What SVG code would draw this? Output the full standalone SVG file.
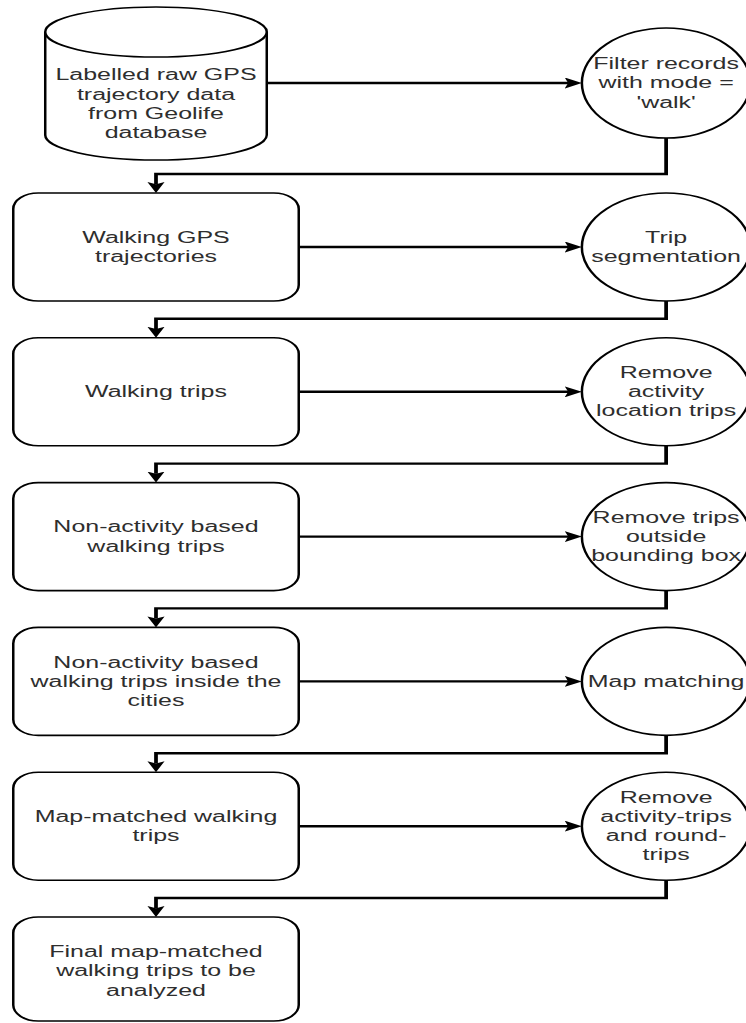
<svg xmlns="http://www.w3.org/2000/svg" width="746" height="1023" viewBox="0 0 746 1023">
  <defs>
    <style>
      .shape { fill: #ffffff; stroke: #000000; stroke-width: 1.6; }
      .edge { fill: none; stroke: #000000; stroke-width: 2.4; }
      .lbl { font-family: "Liberation Sans", Arial, Helvetica, sans-serif; font-size: 16px; fill: #2e2e2e; text-anchor: middle; }
    </style>
    <marker id="arr" markerUnits="userSpaceOnUse" markerWidth="11" markerHeight="11" refX="2" refY="5" orient="auto" viewBox="0 0 10 10">
      <path d="M0,0 L10,5 L0,10 L2,5 Z" fill="#000000"/>
    </marker>
  </defs>
  <rect width="746" height="1023" fill="#ffffff"/>
  <g transform="scale(1.56,1)">
    <g id="connectors">
      <path class="edge" d="M171,83 L364.2,83" marker-end="url(#arr)"/>
      <path class="edge" d="M427,138 L427,174 L100,174 L100,184.2" marker-end="url(#arr)"/>
      <path class="edge" d="M191.5,247 L364.2,247" marker-end="url(#arr)"/>
      <path class="edge" d="M427,301 L427,318.8 L100,318.8 L100,329" marker-end="url(#arr)"/>
      <path class="edge" d="M191.5,391.8 L364.2,391.8" marker-end="url(#arr)"/>
      <path class="edge" d="M427,445.8 L427,463.6 L100,463.6 L100,473.8" marker-end="url(#arr)"/>
      <path class="edge" d="M191.5,536.6 L364.2,536.6" marker-end="url(#arr)"/>
      <path class="edge" d="M427,590.6 L427,608.4 L100,608.4 L100,618.6" marker-end="url(#arr)"/>
      <path class="edge" d="M191.5,681.4 L364.2,681.4" marker-end="url(#arr)"/>
      <path class="edge" d="M427,735.4 L427,753.2 L100,753.2 L100,763.4" marker-end="url(#arr)"/>
      <path class="edge" d="M191.5,826.2 L364.2,826.2" marker-end="url(#arr)"/>
      <path class="edge" d="M427,880.2 L427,898 L100,898 L100,908.2" marker-end="url(#arr)"/>
    </g>

    <g id="n_source">
      <path class="shape" d="M29,32 A71,25 0 0 1 171,32 L171,135 A71,25 0 0 1 29,135 Z"/>
      <path class="shape" fill="none" d="M29,32 A71,25 0 0 0 171,32"/>
      <text class="lbl" x="100" y="80.5">Labelled raw GPS</text>
      <text class="lbl" x="100" y="99.7">trajectory data</text>
      <text class="lbl" x="100" y="119">from Geolife</text>
      <text class="lbl" x="100" y="138.2">database</text>
    </g>
    <g id="p_filter">
      <ellipse class="shape" cx="427" cy="83" rx="54" ry="55"/>
      <text class="lbl" x="427" y="69.3">Filter records</text>
      <text class="lbl" x="427" y="88.5">with mode =</text>
      <text class="lbl" x="427" y="107.7">'walk'</text>
    </g>

    <g id="n_walking_gps">
      <rect class="shape" x="8.5" y="193" width="183" height="108" rx="16" ry="16"/>
      <text class="lbl" x="100" y="242.9">Walking GPS</text>
      <text class="lbl" x="100" y="262.1">trajectories</text>
    </g>
    <g id="p_segmentation">
      <circle class="shape" cx="427" cy="247" r="54"/>
      <text class="lbl" x="427" y="242.9">Trip</text>
      <text class="lbl" x="427" y="262.1">segmentation</text>
    </g>

    <g id="n_walking_trips">
      <rect class="shape" x="8.5" y="337.8" width="183" height="108" rx="16" ry="16"/>
      <text class="lbl" x="100" y="397.3">Walking trips</text>
    </g>
    <g id="p_remove_activity">
      <circle class="shape" cx="427" cy="391.8" r="54"/>
      <text class="lbl" x="427" y="378.1">Remove</text>
      <text class="lbl" x="427" y="397.3">activity</text>
      <text class="lbl" x="427" y="416.5">location trips</text>
    </g>

    <g id="n_non_activity">
      <rect class="shape" x="8.5" y="482.6" width="183" height="108" rx="16" ry="16"/>
      <text class="lbl" x="100" y="532.5">Non-activity based</text>
      <text class="lbl" x="100" y="551.7">walking trips</text>
    </g>
    <g id="p_bbox">
      <circle class="shape" cx="427" cy="536.6" r="54"/>
      <text class="lbl" x="427" y="522.9">Remove trips</text>
      <text class="lbl" x="427" y="542.1">outside</text>
      <text class="lbl" x="427" y="561.3">bounding box</text>
    </g>

    <g id="n_inside_cities">
      <rect class="shape" x="8.5" y="627.4" width="183" height="108" rx="16" ry="16"/>
      <text class="lbl" x="100" y="667.7">Non-activity based</text>
      <text class="lbl" x="100" y="686.9">walking trips inside the</text>
      <text class="lbl" x="100" y="706.1">cities</text>
    </g>
    <g id="p_map_matching">
      <circle class="shape" cx="427" cy="681.4" r="54"/>
      <text class="lbl" x="427" y="686.9">Map matching</text>
    </g>

    <g id="n_map_matched">
      <rect class="shape" x="8.5" y="772.2" width="183" height="108" rx="16" ry="16"/>
      <text class="lbl" x="100" y="822.1">Map-matched walking</text>
      <text class="lbl" x="100" y="841.3">trips</text>
    </g>
    <g id="p_remove_round">
      <circle class="shape" cx="427" cy="826.2" r="54"/>
      <text class="lbl" x="427" y="802.9">Remove</text>
      <text class="lbl" x="427" y="822.1">activity-trips</text>
      <text class="lbl" x="427" y="841.3">and round-</text>
      <text class="lbl" x="427" y="860.5">trips</text>
    </g>

    <g id="n_final">
      <rect class="shape" x="8.5" y="917" width="183" height="104" rx="16" ry="16"/>
      <text class="lbl" x="100" y="957.3">Final map-matched</text>
      <text class="lbl" x="100" y="976.5">walking trips to be</text>
      <text class="lbl" x="100" y="995.7">analyzed</text>
    </g>
  </g>
</svg>
